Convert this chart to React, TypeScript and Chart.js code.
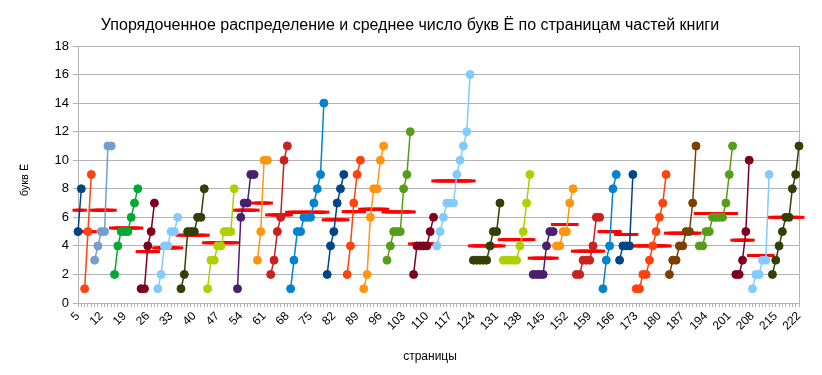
import React, { useEffect, useRef } from 'react';
import { Chart, registerables } from 'chart.js';

Chart.register(...registerables);

// Pages (categories) 5..222
const firstPage = 5;
const lastPage = 222;
const pages: string[] = Array.from({ length: lastPage - firstPage + 1 }, (_, i) => String(firstPage + i));

// Sorted number of letters Ё per page, one array per part of the book (in page order)
const partValues: number[][] = [
  [5, 8],
  [1, 5, 9],
  [3, 4, 5, 5, 11, 11],
  [2, 4, 5, 5, 5, 6, 7, 8],
  [1, 1, 4, 5, 7],
  [1, 2, 4, 4, 5, 5, 6],
  [1, 2, 5, 5, 5, 6, 6, 8],
  [1, 3, 3, 4, 4, 5, 5, 5, 8],
  [1, 6, 7, 7, 9, 9],
  [3, 5, 10, 10],
  [2, 3, 5, 6, 10, 11],
  [1, 3, 5, 5, 6, 6, 6, 7, 8, 9, 14],
  [2, 4, 5, 7, 8, 9],
  [2, 4, 7, 9, 10],
  [1, 2, 6, 8, 8, 10, 11],
  [3, 4, 5, 5, 5, 8, 9, 12],
  [2, 4, 4, 4, 4, 5, 6],
  [4, 5, 6, 7, 7, 7, 9, 10, 11, 12, 16],
  [3, 3, 3, 3, 3, 4, 5, 5, 7],
  [3, 3, 3, 3, 3, 4, 5, 7, 9],
  [2, 2, 2, 2, 4, 5, 5],
  [4, 4, 5, 5, 7, 8],
  [2, 2, 3, 3, 3, 4, 6, 6],
  [1, 3, 4, 8, 9],
  [3, 4, 4, 4, 9],
  [1, 1, 2, 2, 3, 4, 5, 6, 7, 9],
  [2, 3, 3, 4, 4, 5, 5, 7, 11],
  [4, 4, 5, 5, 6, 6, 6, 6, 7, 9, 11],
  [2, 2, 3, 5, 10],
  [1, 2, 2, 3, 3, 9],
  [2, 3, 4, 5, 6, 6, 8, 9, 11],
];

// Mean number of letters Ё per page for each part
const partMeans: number[] = [
  6.5, 5, 6.5, 5.25, 3.6, 3.86, 4.75, 4.22, 6.5, 7, 6.17, 6.36, 5.83, 6.4, 6.57, 6.38,
  4.14, 8.55, 4, 4.44, 3.14, 5.5, 3.63, 5, 4.8, 4, 4.89, 6.27, 4.4, 3.33, 6,
];

const partColors: string[] = [
  '#004586', '#ff420e', '#729fcf', '#00a933', '#7e0021', '#83caff', '#314004', '#aecf00',
  '#4b1f6f', '#ff950e', '#c9211e', '#0084d1', '#004586', '#ff420e', '#ff950e', '#579d1c',
  '#7e0021', '#83caff', '#314004', '#aecf00', '#4b1f6f', '#ff950e', '#c9211e', '#0084d1',
  '#004586', '#ff420e', '#7b3f00', '#579d1c', '#7e0021', '#83caff', '#314004',
];

const yTicks: number[] = [0, 2, 4, 6, 8, 10, 12, 14, 16, 18];

const chartTitle = 'Упорядоченное распределение и среднее число букв Ё по страницам частей книги';
const yTitle = 'букв Ё';
const xTitle = 'страницы';

const FONT = "'Liberation Sans', Arial, sans-serif";

export default function App() {
  const ref = useRef<HTMLCanvasElement | null>(null);

  useEffect(() => {
    if (!ref.current) return;

    let offset = 0;
    const meanData: (number | null)[] = pages.map(() => null);
    const partSets = partValues.map((vals, p) => {
      const data: (number | null)[] = pages.map(() => null);
      vals.forEach((v, k) => {
        data[offset + k] = v;
        meanData[offset + k] = partMeans[p];
      });
      offset += vals.length;
      const c = partColors[p];
      return {
        label: 'Часть ' + (p + 1),
        data,
        borderColor: c,
        backgroundColor: c,
        pointBackgroundColor: c,
        pointBorderColor: c,
        borderWidth: 1.5,
        pointRadius: 4,
        pointBorderWidth: 1,
        pointHoverRadius: 4,
        spanGaps: false,
        clip: false as any,
      };
    });

    const meanSet = {
      label: 'среднее',
      data: meanData,
      showLine: false,
      borderColor: '#ff0000',
      backgroundColor: '#ff0000',
      pointStyle: 'line' as const,
      pointRadius: 5.5,
      pointHoverRadius: 5.5,
      pointBorderWidth: 3,
      pointBorderColor: '#ff0000',
      clip: false as any,
    };

    const decor = {
      id: 'decor',
      beforeDatasetsDraw(chart: any) {
        const { ctx, chartArea: a } = chart;
        ctx.save();
        ctx.strokeStyle = '#b3b3b3';
        ctx.lineWidth = 1;
        ctx.beginPath();
        ctx.moveTo(Math.round(a.right) + 0.5, a.top);
        ctx.lineTo(Math.round(a.right) + 0.5, a.bottom);
        ctx.stroke();
        ctx.restore();
      },
      afterDraw(chart: any) {
        const { ctx } = chart;
        ctx.save();
        ctx.fillStyle = '#000000';
        ctx.textAlign = 'center';
        ctx.textBaseline = 'middle';
        ctx.font = `16px ${FONT}`;
        ctx.fillText(chartTitle, 410, 26);
        ctx.font = `12px ${FONT}`;
        ctx.fillText(xTitle, 430, 357);
        ctx.translate(25, 180);
        ctx.rotate(-Math.PI / 2);
        ctx.font = `11px ${FONT}`;
        ctx.fillText(yTitle, 0, 0);
        ctx.restore();
      },
    };

    const chart = new Chart(ref.current, {
      type: 'line',
      data: { labels: pages, datasets: [...partSets, meanSet] as any },
      options: {
        responsive: false,
        animation: false,
        events: [],
        layout: { padding: { left: 0, right: 23, top: 46, bottom: 0 } },
        plugins: {
          legend: { display: false },
          tooltip: { enabled: false },
          title: { display: false },
        },
        scales: {
          x: {
            type: 'category',
            offset: false,
            grid: {
              display: true,
              drawOnChartArea: false,
              drawTicks: true,
              tickLength: 4,
              color: '#b3b3b3',
            },
            border: { display: true, color: '#b3b3b3' },
            ticks: {
              autoSkip: false,
              minRotation: 45,
              maxRotation: 45,
              padding: 2,
              color: '#000000',
              font: { family: FONT, size: 12 },
              callback: (_v: any, i: number) => (i % 7 === 0 ? pages[i] : ''),
            },
            afterFit: (s: any) => {
              s.height = 72;
            },
          },
          y: {
            min: 0,
            max: 18,
            afterBuildTicks: (s: any) => {
              s.ticks = yTicks.map((v) => ({ value: v }));
            },
            grid: { color: '#b3b3b3', tickLength: 5, drawTicks: true },
            border: { display: true, color: '#b3b3b3' },
            ticks: {
              color: '#000000',
              padding: 4,
              font: { family: FONT, size: 13 },
            },
            afterFit: (s: any) => {
              s.width = 78;
            },
          },
        },
      },
      plugins: [decor],
    });

    return () => chart.destroy();
  }, []);

  return (
    <div style={{ position: 'fixed', left: 0, top: 0, width: 822, height: 375, background: '#ffffff' }}>
      <canvas ref={ref} width={822} height={375} style={{ display: 'block', width: 822, height: 375 }} />
    </div>
  );
}
